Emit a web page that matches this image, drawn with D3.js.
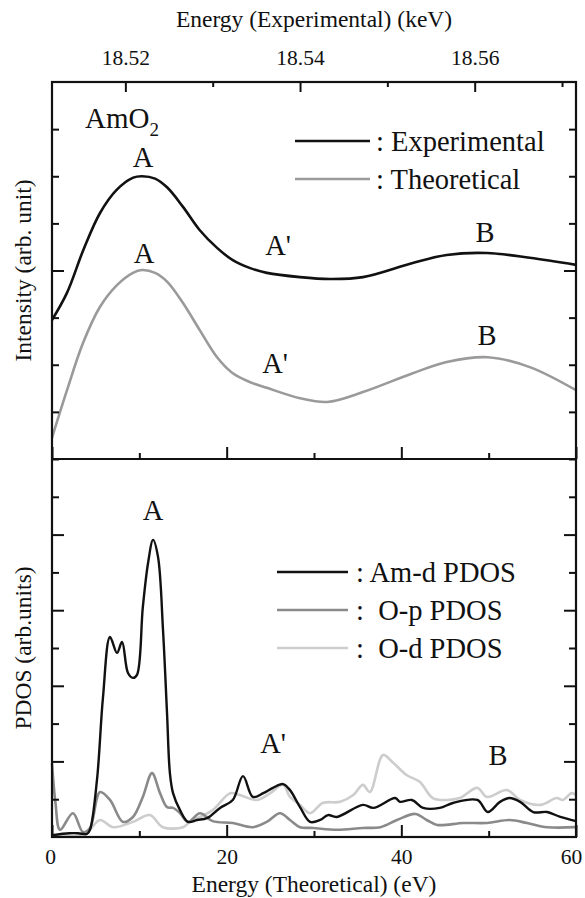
<!DOCTYPE html>
<html>
<head>
<meta charset="utf-8">
<script src="https://cdn.jsdelivr.net/npm/d3@7"></script>
<style>
  body { margin: 0; background: #fff; }
  svg text { font-family: 'Liberation Serif', 'DejaVu Serif', serif; fill: #111; }
</style>
</head>
<body>
<div class="wrapper"></div>
<script>
// top panel: experimental spectrum (keV) and theoretical spectrum (eV)
const expEnergy = [18.5116, 18.5133, 18.5152, 18.5171, 18.5190, 18.5209, 18.5219, 18.5234, 18.5248, 18.5266,
  18.5285, 18.5305, 18.5323, 18.5343, 18.5362, 18.5400, 18.5434, 18.5472, 18.5529, 18.5568, 18.5614, 18.5663, 18.5716]
const expIntensity = [2.95, 3.52, 4.44, 5.22, 5.71, 5.97, 6.0, 5.95, 5.76, 5.35,
  4.86, 4.48, 4.22, 4.05, 3.95, 3.86, 3.82, 3.86, 4.16, 4.33, 4.37, 4.27, 4.12]

const theoEnergy = [0, 1.72, 3.55, 5.5, 7.44, 9.27, 10.3, 11.8, 13.2, 15.0, 16.9, 18.9,
  20.7, 22.7, 24.6, 28.4, 31.5, 35.6, 41.3, 45.2, 49.9, 54.7, 60]
const theoIntensity = [0.45, 1.46, 2.46, 3.23, 3.69, 3.95, 4.01, 3.95, 3.76, 3.31, 2.74, 2.16,
  1.82, 1.63, 1.51, 1.29, 1.21, 1.42, 1.82, 2.06, 2.16, 1.95, 1.46]

// bottom panel: partial densities of states
const amdE = [0, 2, 3, 4, 4.35, 5.15, 5.84, 6.64, 7.44, 8.02, 8.7, 9.27, 9.73, 10.4, 11.0, 11.57, 12.14, 12.71,
  13.17, 13.5, 13.86, 14.66, 15.57, 16.6, 17.75, 19.24, 20.7, 21.87, 23.0, 24.2, 25.3, 26.45, 27.25, 28.4,
  29.55, 30.7, 31.6, 32.6, 35.6, 36.8, 39.3, 39.85, 41.2, 42.5, 44.4, 45.9, 48.7, 49.9, 51.3, 52.4, 53.6,
  55.1, 56.7, 58.2, 60]
const amdV = [0.05, 0.1, 0.1, 0.08, 0.19, 1.51, 3.70, 5.29, 4.87, 5.16, 4.34, 4.21, 4.29, 6.08, 7.25, 7.86, 7.41, 5.48,
  3.28, 1.69, 1.16, 0.71, 0.40, 0.45, 0.50, 0.77, 0.98, 1.61, 1.06, 1.16, 1.30, 1.40, 1.24, 0.79,
  0.40, 0.45, 0.58, 0.53, 0.85, 0.77, 1.03, 0.93, 0.98, 0.77, 0.77, 0.90, 0.98, 0.66, 0.93, 1.03, 0.93,
  0.66, 0.66, 0.53, 0.42]

const opE = [0, 0.4, 0.92, 2.4, 3.55, 4.35, 5.5, 6.64, 8.13, 9.27, 10.4, 11.45, 12.37, 13.17, 13.86, 14.66,
  15.57, 16.95, 18.4, 20.7, 23.0, 24.6, 26.1, 27.25, 28.4, 29.9, 32.6, 35.6, 37.6, 39.5, 41.6, 42.9, 44.1,
  47.1, 49.8, 52.4, 54.4, 56.7, 60]
const opV = [1.95, 0.9, 0.19, 0.63, 0.13, 0.24, 1.19, 0.98, 0.40, 0.53, 1.06, 1.69, 1.16, 0.79, 0.77, 0.63,
  0.40, 0.63, 0.42, 0.37, 0.26, 0.40, 0.63, 0.45, 0.26, 0.24, 0.19, 0.24, 0.26, 0.45, 0.61, 0.45, 0.32,
  0.37, 0.37, 0.45, 0.37, 0.26, 0.26]

const odE = [0, 3.3, 4.35, 5.5, 7.0, 9.27, 11.2, 12.7, 15.0, 15.8, 16.95, 18.4, 20.4, 21.5, 23.5, 25.0, 26.45,
  27.25, 28.4, 29.55, 31.0, 33.0, 34.5, 35.6, 36.4, 37.9, 39.0, 40.6, 42.1, 43.6, 45.2, 46.7, 48.7, 49.8,
  52.1, 53.6, 55.9, 57.8, 58.5, 59.5, 60]
const odV = [0.03, 0.05, 0.2, 0.45, 0.26, 0.40, 0.58, 0.26, 0.26, 0.40, 0.53, 0.71, 1.16, 1.11, 0.98, 1.16, 1.38,
  1.06, 0.85, 0.63, 0.90, 0.93, 1.11, 1.38, 1.19, 2.17, 1.98, 1.64, 1.46, 1.03, 0.98, 1.03, 1.30, 1.06,
  1.24, 0.98, 0.85, 1.03, 0.98, 1.16, 1.11]

const keVTicks = [18.52, 18.54, 18.56]
const keVMinor = [18.53, 18.55, 18.57]
const eVTicks = [0, 20, 40, 60]
const eVMinor = [10, 30, 50]

const width = 585,
  height = 898,
  frame = { left: 52, right: 576, top: 82, mid: 459, bottom: 837 }

const x = d3.scaleLinear().domain([0, 60]).range([frame.left, frame.right])
const xExp = d3.scaleLinear().domain([18.5116, 18.5716]).range([frame.left, frame.right])
const yTop = d3.scaleLinear().domain([0, 8]).range([frame.mid, frame.top])
const yBot = d3.scaleLinear().domain([0, 10]).range([frame.bottom, frame.mid])

const svg = d3.select('.wrapper')
  .append('svg')
  .attr('width', width)
  .attr('height', height)

// curves
const smooth = d3.curveCatmullRom.alpha(0.5)

function drawLine(xs, ys, xScale, yScale, color, w) {
  const pts = xs.map((v, i) => [xScale(v), yScale(ys[i])])
  svg.append('path')
    .attr('d', d3.line().curve(smooth)(pts))
    .attr('fill', 'none')
    .attr('stroke', color)
    .attr('stroke-width', w)
    .attr('stroke-linejoin', 'round')
}

drawLine(theoEnergy, theoIntensity, x, yTop, '#9a9a9a', 2.6)
drawLine(expEnergy, expIntensity, xExp, yTop, '#111', 2.6)
drawLine(odE, odV, x, yBot, '#cdcdcd', 2.6)
drawLine(opE, opV, x, yBot, '#8a8a8a', 2.6)
drawLine(amdE, amdV, x, yBot, '#111', 2.4)

// axes, all ticks pointing inward
function styleAxis(g, fs) {
  g.select('.domain').remove()
  g.selectAll('line').attr('stroke', '#111').attr('stroke-width', 2)
  g.selectAll('text').attr('font-size', fs).style('font-family', "'Liberation Serif', serif").attr('fill', '#111')
}

svg.append('g')
  .attr('transform', `translate(0, ${frame.top})`)
  .call(d3.axisTop(xExp).tickValues(keVTicks).tickSize(-10).tickPadding(17).tickFormat(d3.format('.2f')))
  .call(g => styleAxis(g, 21.5))
svg.append('g')
  .attr('transform', `translate(0, ${frame.top})`)
  .call(d3.axisTop(xExp).tickValues(keVMinor).tickSize(-5).tickFormat(''))
  .call(g => styleAxis(g, 21.5))

svg.append('g')
  .attr('transform', `translate(0, ${frame.bottom})`)
  .call(d3.axisBottom(x).tickValues(eVTicks).tickSize(-12).tickPadding(12).tickFormat(d3.format('d')))
  .call(g => styleAxis(g, 21.5))
  .call(g => g.selectAll('text').attr('dx', d => d === 60 ? -5 : d === 0 ? -2 : 0))
svg.append('g')
  .attr('transform', `translate(0, ${frame.bottom})`)
  .call(d3.axisBottom(x).tickValues(eVMinor).tickSize(-6).tickFormat(''))
  .call(g => styleAxis(g, 21.5))

// divider carries the top panel's bottom ticks
svg.append('g')
  .attr('transform', `translate(0, ${frame.mid})`)
  .call(d3.axisBottom(x).tickValues(eVTicks).tickSize(-12).tickFormat(''))
  .call(g => styleAxis(g, 21.5))
svg.append('g')
  .attr('transform', `translate(0, ${frame.mid})`)
  .call(d3.axisBottom(x).tickValues(eVMinor).tickSize(-6).tickFormat(''))
  .call(g => styleAxis(g, 21.5))

const yTopMajor = [4], yTopMinor = [1, 2, 3, 5, 6, 7]
const yBotMajor = [2, 4, 6, 8], yBotMinor = [1, 3, 5, 7, 9]

;[[yTop, yTopMajor, 12], [yTop, yTopMinor, 7], [yBot, yBotMajor, 12], [yBot, yBotMinor, 7], [yBot, [10], 7]].forEach(([sc, vals, len]) => {
  svg.append('g')
    .attr('transform', `translate(${frame.left}, 0)`)
    .call(d3.axisLeft(sc).tickValues(vals).tickSize(-len).tickFormat(''))
    .call(g => styleAxis(g, 21.5))
  svg.append('g')
    .attr('transform', `translate(${frame.right}, 0)`)
    .call(d3.axisRight(sc).tickValues(vals).tickSize(-len).tickFormat(''))
    .call(g => styleAxis(g, 21.5))
})

// frame
svg.append('rect')
  .attr('x', frame.left).attr('y', frame.top)
  .attr('width', frame.right - frame.left).attr('height', frame.bottom - frame.top)
  .attr('fill', 'none').attr('stroke', '#111').attr('stroke-width', 2.2)
svg.append('line')
  .attr('x1', frame.left).attr('x2', frame.right)
  .attr('y1', frame.mid).attr('y2', frame.mid)
  .attr('stroke', '#111').attr('stroke-width', 2.2)

// axis titles
svg.append('text')
  .attr('x', (frame.left + frame.right) / 2).attr('y', 27)
  .attr('text-anchor', 'middle').attr('font-size', 23.5)
  .text('Energy (Experimental) (keV)')
svg.append('text')
  .attr('x', (frame.left + frame.right) / 2).attr('y', 892)
  .attr('text-anchor', 'middle').attr('font-size', 23.5)
  .text('Energy (Theoretical) (eV)')
svg.append('text')
  .attr('transform', `translate(31, ${(frame.top + frame.mid) / 2}) rotate(-90)`)
  .attr('text-anchor', 'middle').attr('font-size', 23.5)
  .text('Intensity (arb. unit)')
svg.append('text')
  .attr('transform', `translate(31, ${(frame.mid + frame.bottom) / 2}) rotate(-90)`)
  .attr('text-anchor', 'middle').attr('font-size', 23.5)
  .text('PDOS (arb.units)')

// compound label
const amo = svg.append('text').attr('x', 85).attr('y', 128).attr('font-size', 29)
amo.append('tspan').text('AmO')
amo.append('tspan').attr('font-size', 19).attr('dy', 8).text('2')

// peak labels
const peakLabels = [
  { t: 'A', x: 143, y: 167 }, { t: "A'", x: 278, y: 255 }, { t: 'B', x: 485, y: 242 },
  { t: 'A', x: 144, y: 263 }, { t: "A'", x: 275, y: 373 }, { t: 'B', x: 487, y: 345 },
  { t: 'A', x: 153, y: 520 }, { t: "A'", x: 273, y: 753 }, { t: 'B', x: 498, y: 765 }
]
svg.selectAll('.peak')
  .data(peakLabels)
  .enter().append('text')
  .attr('class', 'peak')
  .attr('x', d => d.x).attr('y', d => d.y)
  .attr('text-anchor', 'middle').attr('font-size', 28.5)
  .text(d => d.t)

// legends
const legendTop = [
  { name: ': Experimental', color: '#111', y: 141 },
  { name: ': Theoretical', color: '#9a9a9a', y: 179 }
]
const legendBot = [
  { name: ': Am-d PDOS', color: '#111', y: 572 },
  { name: ':  O-p PDOS', color: '#8a8a8a', y: 610 },
  { name: ':  O-d PDOS', color: '#cdcdcd', y: 648 }
]

function legend(items, x1, x2, tx) {
  const g = svg.selectAll(null).data(items).enter().append('g')
  g.append('line')
    .attr('x1', x1).attr('x2', x2)
    .attr('y1', d => d.y).attr('y2', d => d.y)
    .attr('stroke', d => d.color).attr('stroke-width', 2.6)
  g.append('text')
    .attr('x', tx).attr('y', d => d.y)
    .attr('dy', '0.35em').attr('font-size', 28.5)
    .style('white-space', 'pre')
    .text(d => d.name)
}
legend(legendTop, 295, 370, 376)
legend(legendBot, 277, 348, 356)
</script>
</body>
</html>
